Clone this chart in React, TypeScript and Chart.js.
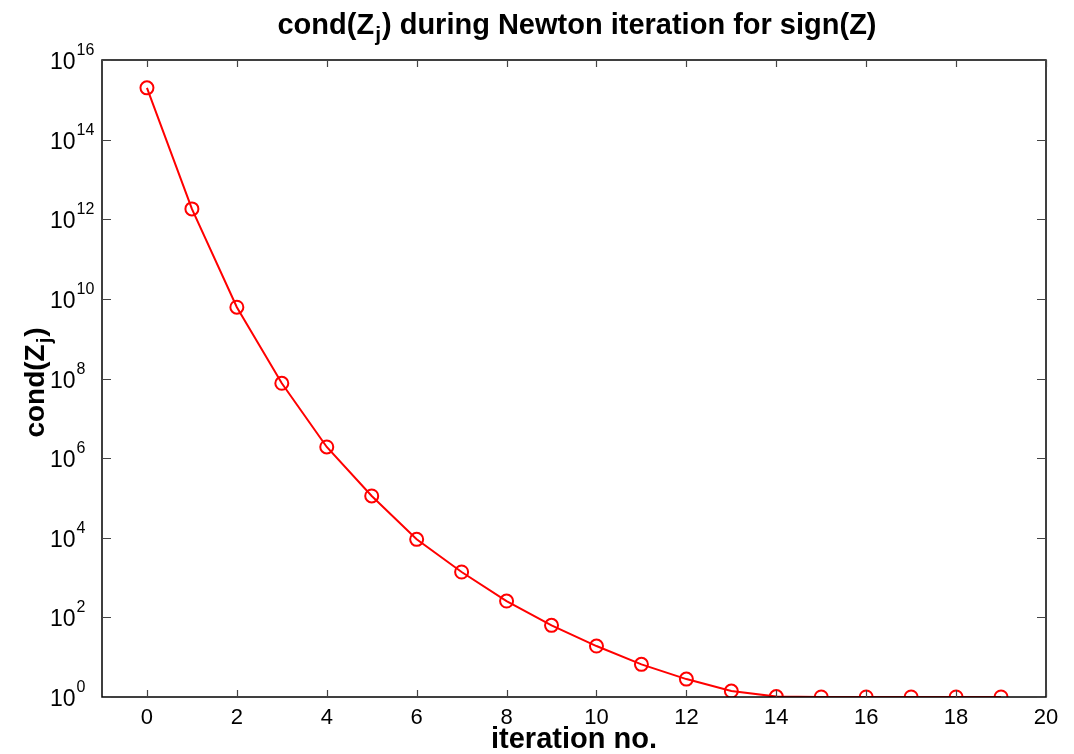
import React, { useEffect, useRef } from "react";
import { Chart, registerables } from "chart.js";

Chart.register(...registerables);

const iterations = [0, 1, 2, 3, 4, 5, 6, 7, 8, 9, 10, 11, 12, 13, 14, 15, 16, 17, 18, 19];
const log10Cond = [15.3, 12.26, 9.79, 7.88, 6.28, 5.05, 3.96, 3.14, 2.41, 1.8, 1.28, 0.82, 0.45, 0.15, 0.01, 0, 0, 0, 0, 0];
const condValues = log10Cond.map((e) => Math.pow(10, e));
const xTickValues = [0, 2, 4, 6, 8, 10, 12, 14, 16, 18, 20];
const yTickExponents = [0, 2, 4, 6, 8, 10, 12, 14, 16];
const titleText = "cond(Z";
const titleSub = "j";
const titleRest = ") during Newton iteration for sign(Z)";
const xTitle = "iteration no.";
const yTitleMain = "cond(Z";
const yTitleSub = "j";
const yTitleEnd = ")";

const FONT = "Liberation Sans, Arial, sans-serif";

const decorPlugin = {
  id: "decor",
  afterDraw(chart: any) {
    const { ctx, chartArea } = chart;
    const { left, right, top, bottom } = chartArea;
    const xs = chart.scales.x;
    const ys = chart.scales.y;
    ctx.save();
    // box
    ctx.strokeStyle = "#000";
    ctx.lineWidth = 1.5;
    ctx.strokeRect(left, top, right - left, bottom - top);
    // ticks
    ctx.strokeStyle = "#444";
    ctx.lineWidth = 1.2;
    xTickValues.forEach((v) => {
      const px = Math.round(xs.getPixelForValue(v)) + 0.5;
      ctx.beginPath();
      ctx.moveTo(px, bottom);
      ctx.lineTo(px, bottom - 7);
      ctx.moveTo(px, top);
      ctx.lineTo(px, top + 7);
      ctx.stroke();
    });
    yTickExponents.forEach((e) => {
      const py = Math.round(ys.getPixelForValue(Math.pow(10, e))) + 0.5;
      ctx.beginPath();
      ctx.moveTo(left, py);
      ctx.lineTo(left + 9, py);
      ctx.moveTo(right, py);
      ctx.lineTo(right - 9, py);
      ctx.stroke();
    });
    // x tick labels
    ctx.fillStyle = "#000";
    ctx.font = `22px ${FONT}`;
    ctx.textAlign = "center";
    ctx.textBaseline = "alphabetic";
    xTickValues.forEach((v) => {
      ctx.fillText(String(v), xs.getPixelForValue(v), 724);
    });
    // y tick labels with superscript (left aligned)
    yTickExponents.forEach((e) => {
      const py = ys.getPixelForValue(Math.pow(10, e));
      ctx.textAlign = "left";
      ctx.textBaseline = "alphabetic";
      ctx.font = `23px ${FONT}`;
      const bw = ctx.measureText("10").width;
      ctx.fillText("10", 50, py + 9);
      ctx.font = `16px ${FONT}`;
      ctx.fillText(String(e), 50 + bw + 1, py - 5);
    });
    // title
    const tf = 29;
    const sf = 21;
    ctx.font = `bold ${tf}px ${FONT}`;
    const w1 = ctx.measureText(titleText).width;
    ctx.font = `bold ${sf}px ${FONT}`;
    const w2 = ctx.measureText(titleSub).width;
    ctx.font = `bold ${tf}px ${FONT}`;
    const w3 = ctx.measureText(titleRest).width;
    const total = w1 + w2 + w3;
    let tx = (left + right) / 2 + 2 - total / 2;
    const ty = 34;
    ctx.textAlign = "left";
    ctx.fillText(titleText, tx, ty);
    tx += w1;
    ctx.font = `bold ${sf}px ${FONT}`;
    ctx.fillText(titleSub, tx + 1, ty + 7);
    tx += w2 + 2;
    ctx.font = `bold ${tf}px ${FONT}`;
    ctx.fillText(titleRest, tx, ty);
    // x title
    ctx.textAlign = "center";
    ctx.font = `bold 29px ${FONT}`;
    ctx.fillText(xTitle, (left + right) / 2, 748);
    // y title rotated
    ctx.save();
    ctx.translate(44, 382);
    ctx.rotate(-Math.PI / 2);
    const yf = 28;
    const ysf = 20;
    ctx.font = `bold ${yf}px ${FONT}`;
    const wa = ctx.measureText(yTitleMain).width;
    ctx.font = `bold ${ysf}px ${FONT}`;
    const wb = ctx.measureText(yTitleSub).width;
    ctx.font = `bold ${yf}px ${FONT}`;
    const wc = ctx.measureText(yTitleEnd).width;
    let yx = -(wa + wb + wc + 3) / 2;
    ctx.textAlign = "left";
    ctx.fillText(yTitleMain, yx, 0);
    yx += wa;
    ctx.font = `bold ${ysf}px ${FONT}`;
    ctx.fillText(yTitleSub, yx + 1, 7);
    yx += wb + 2;
    ctx.font = `bold ${yf}px ${FONT}`;
    ctx.fillText(yTitleEnd, yx, 0);
    ctx.restore();
    ctx.restore();
  },
};

export default function App() {
  const ref = useRef<HTMLCanvasElement | null>(null);
  useEffect(() => {
    document.body.style.margin = "0";
    const canvas = ref.current!;
    const chart = new Chart(canvas, {
      type: "line",
      data: {
        datasets: [
          {
            data: iterations.map((x, i) => ({ x, y: condValues[i] })),
            borderColor: "#ff0000",
            backgroundColor: "transparent",
            borderWidth: 2,
            pointStyle: "circle",
            pointRadius: 6.5,
            pointBorderWidth: 2,
            pointBorderColor: "#ff0000",
            pointBackgroundColor: "transparent",
            tension: 0,
            fill: false,
          },
        ],
      },
      options: {
        responsive: false,
        animation: false,
        events: [],
        layout: { padding: { left: 102, right: 28, top: 60, bottom: 57 } },
        plugins: { legend: { display: false }, title: { display: false }, tooltip: { enabled: false } },
        scales: {
          x: { type: "linear", min: -1, max: 20, display: false },
          y: { type: "logarithmic", min: 1, max: 1e16, display: false },
        },
      },
      plugins: [decorPlugin],
    });
    return () => chart.destroy();
  }, []);
  return <canvas ref={ref} width={1074} height={754} style={{ display: "block" }} />;
}
